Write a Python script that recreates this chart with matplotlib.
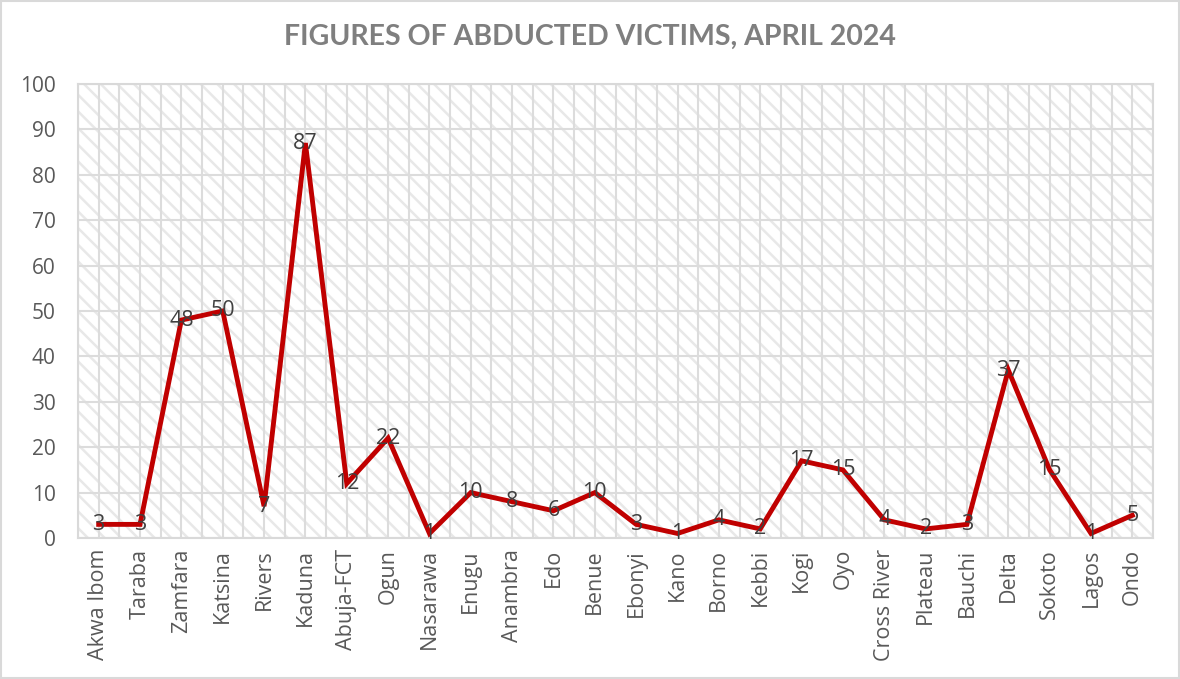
import matplotlib.pyplot as plt
from matplotlib.patches import Rectangle
import numpy as np

states = ["Akwa Ibom", "Taraba", "Zamfara", "Katsina", "Rivers", "Kaduna",
          "Abuja-FCT", "Ogun", "Nasarawa", "Enugu", "Anambra", "Edo", "Benue",
          "Ebonyi", "Kano", "Borno", "Kebbi", "Kogi", "Oyo", "Cross River",
          "Plateau", "Bauchi", "Delta", "Sokoto", "Lagos", "Ondo"]
victims = [3, 3, 48, 50, 7, 87, 12, 22, 1, 10, 8, 6, 10, 3, 1, 4, 2, 17, 15, 4,
           2, 3, 37, 15, 1, 5]
y_ticks = list(range(0, 101, 10))

plt.rcParams['hatch.linewidth'] = 1.8
plt.rcParams['hatch.color'] = '#e8e8e8'

fig = plt.figure(figsize=(11.8, 6.79), dpi=100)
ax = fig.add_axes([78 / 1180, 141 / 679, 1075 / 1180, 454 / 679])

n = len(states)
x = np.arange(n)
ax.set_xlim(-0.5, n - 0.5)
ax.set_ylim(0, 100)

# hatched plot area background
ax.add_patch(Rectangle((0, 0), 1, 1, transform=ax.transAxes, facecolor='white',
                       edgecolor='#e8e8e8', hatch='\\\\', linewidth=0, zorder=0))

for v in y_ticks:
    ax.axhline(v, color='#dcdcdc', lw=1.5, zorder=1)
for xv in np.arange(-0.5, n, 0.5):
    ax.axvline(xv, color='#dcdcdc', lw=1.5, zorder=1)

ax.plot(x, victims, color='#c00000', lw=3.5, zorder=3, solid_joinstyle='miter')
for xi, v in zip(x, victims):
    ax.text(xi, v, str(v), ha='center', va='center', fontsize=15.5,
            family='Open Sans', color='#404040', zorder=4)

ax.set_yticks(y_ticks)
ax.set_yticklabels([str(v) for v in y_ticks], family='Open Sans', fontsize=15,
                   color='#595959')
ax.set_xticks(x)
ax.set_xticklabels(states, rotation=90, family='Open Sans', fontsize=15.5,
                   color='#595959')
ax.tick_params(axis='y', length=0, pad=16)
ax.tick_params(axis='x', length=0, pad=8)
for s in ax.spines.values():
    s.set_color('#d9d9d9')
    s.set_linewidth(1.5)

fig.text(0.5, 0.945, "FIGURES OF ABDUCTED VICTIMS, APRIL 2024", ha='center',
         va='center', fontsize=20.5, fontweight='bold', family='Lato',
         color='#7f7f7f')

fig.add_artist(Rectangle((0.001, 0.001), 0.998, 0.998, transform=fig.transFigure,
                         fill=False, edgecolor='#d9d9d9', lw=1.5))

fig.savefig('out.png', dpi=100)
